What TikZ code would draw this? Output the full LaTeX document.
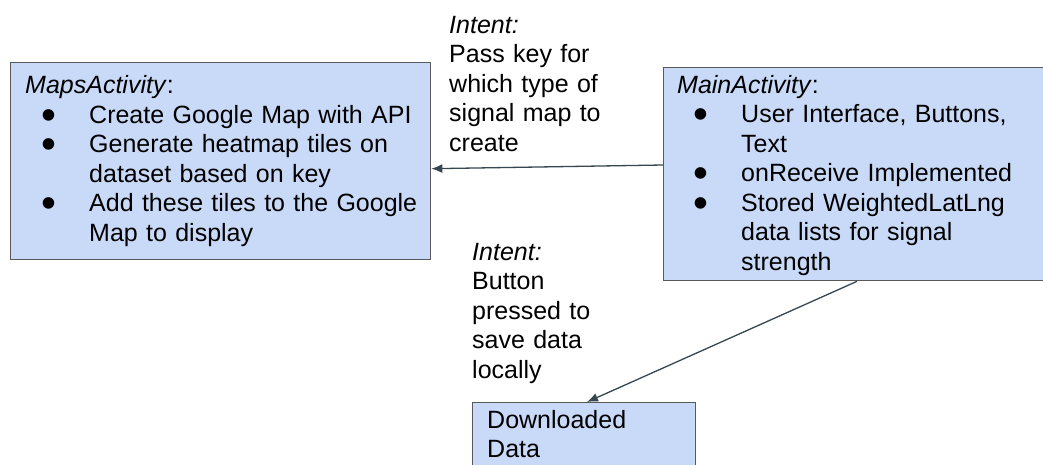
\documentclass[tikz,border=0pt]{standalone}
\usepackage{fontspec}
\usepackage{graphicx}
\setmainfont{Liberation Sans}
\usetikzlibrary{arrows.meta,calc}
\definecolor{boxfill}{HTML}{C9DAF8}
\definecolor{boxline}{HTML}{595959}
\definecolor{arrowcol}{HTML}{37474F}
\newcommand\blt{\makebox[64pt][l]{\hspace{16pt}\smash{\raisebox{-6pt}{\scalebox{1.7}{\textbullet}}}}}
\newcommand\ind{\hspace*{64pt}}
\begin{document}
\begin{tikzpicture}[x=1pt,y=-1pt,
  box/.style={draw=boxline, fill=boxfill, line width=1.3pt, anchor=north west, inner sep=0pt},
  txt/.style={anchor=north west, inner sep=0pt, align=left, text width=#1, font=\fontsize{25}{29.5}\selectfont},
  txt/.default=420pt,
  arr/.style={draw=arrowcol, line width=1.3pt, -{Latex[length=11pt,width=9pt]}}]
\useasboundingbox (0,0) rectangle (1043,464);
\clip (0,0) rectangle (1043,464);
\fill[white] (0,0) rectangle (1043,464);

% boxes
\node[box, minimum width=420pt, minimum height=197.3pt] (maps) at (10,61.7) {};
\node[box, minimum width=390pt, minimum height=213pt] (main) at (663,67) {};
\node[box, minimum width=223pt, minimum height=80pt] (dl) at (472,402) {};

% box texts
\node[txt] (mapsT) at (25,72.65) {\strut\textit{MapsActivity}:\\
\blt Create Google Map with API\\
\blt Generate heatmap tiles on\\
\ind dataset based on key\\
\blt Add these tiles to the Google\\
\ind Map to display};

\node[txt=360pt] (mainT) at (677,72.35) {\strut\textit{MainActivity}:\\
\blt User Interface, Buttons,\\
\ind Text\\
\blt onReceive Implemented\\
\blt Stored WeightedLatLng\\
\ind data lists for signal\\
\ind strength};

\node[txt=200pt] (dlT) at (487,407.35) {\strut Downloaded\\ Data};

% connector labels
\node[txt=200pt] (int1) at (449,12.35) {\strut\textit{Intent:}\\ Pass key for\\ which type of\\ signal map to\\ create};
\node[txt=150pt] (int2) at (472,239.35) {\strut\textit{Intent:}\\ Button\\ pressed to\\ save data\\ locally};

% connectors
\draw[arr] ($(main.north west)+(0,98)$) -- ($(maps.north east)+(0,107)$);
\draw[arr] ($(main.south west)+(194,0)$) -- ($(dl.north west)+(115,0)$);
\end{tikzpicture}
\end{document}
